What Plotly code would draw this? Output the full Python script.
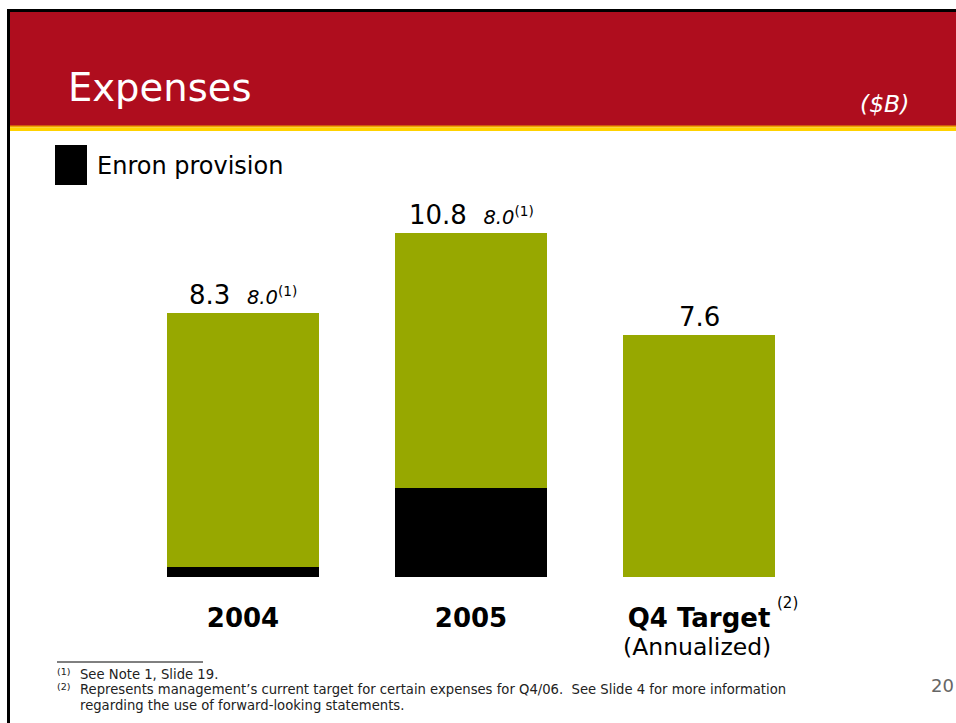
import plotly.graph_objects as go

# Expenses by period ($B)
categories = ["2004", "2005", "Q4 Target"]
enron_provision = [0.3, 2.8, 0.0]
other_expenses = [8.0, 8.0, 7.6]
tick_labels = ["<b>2004</b>", "<b>2005</b>", "<b>Q4 Target</b>"]
footnote_1 = "See Note 1, Slide 19."
footnote_2 = ["Represents management\u2019s current target for certain expenses for Q4/06.  "
              "See Slide 4 for more information",
              "regarding the use of forward-looking statements."]

W, H = 956, 723
L, R, T, B = 129, 143, 150, 146
PW, PH = W - L - R, H - T - B
Y_MAX = 13.41

GREEN = "#97A800"
RED = "#AF0D1E"
FONT = "DejaVu Sans"
NOTE_SIZE = 13.2


def px(x):
    return (x - L) / PW


def py(y):
    return (H - B - y) / PH


fig = go.Figure()
fig.add_trace(go.Bar(x=categories, y=enron_provision, marker=dict(color="black", line_width=0),
                     name="Enron provision", showlegend=False, hoverinfo="skip"))
fig.add_trace(go.Bar(x=categories, y=other_expenses, marker=dict(color=GREEN, line_width=0),
                     name="Expenses", showlegend=False, hoverinfo="skip"))

shapes = [
    # header band
    dict(type="rect", xref="paper", yref="paper", x0=px(7), x1=px(W + 2), y0=py(9), y1=py(126),
         fillcolor=RED, line_width=0, layer="below"),
    dict(type="rect", xref="paper", yref="paper", x0=px(10), x1=px(W + 2), y0=py(125.5), y1=py(127.5),
         fillcolor="#EFA000", line_width=0, layer="below"),
    dict(type="rect", xref="paper", yref="paper", x0=px(10), x1=px(W + 2), y0=py(127.5), y1=py(131),
         fillcolor="#FFD200", line_width=0, layer="below"),
    # slide frame
    dict(type="rect", xref="paper", yref="paper", x0=px(7), x1=px(W + 2), y0=py(9), y1=py(12),
         fillcolor="black", line_width=0, layer="below"),
    dict(type="rect", xref="paper", yref="paper", x0=px(7), x1=px(10), y0=py(9), y1=py(H + 2),
         fillcolor="black", line_width=0, layer="below"),
    # legend swatch
    dict(type="rect", xref="paper", yref="paper", x0=px(55), x1=px(87), y0=py(145), y1=py(185),
         fillcolor="black", line_width=0),
    # footnote rule
    dict(type="line", xref="paper", yref="paper", x0=px(57), x1=px(203), y0=py(662), y1=py(662),
         line=dict(color="black", width=1)),
]

annotations = [
    dict(text="Expenses", x=px(66), y=py(87), xanchor="left", yanchor="middle",
         font=dict(family=FONT, size=38.5, color="white")),
    dict(text="<i>($B)</i>", x=px(911), y=py(104), xanchor="right", yanchor="middle",
         font=dict(family=FONT, size=23.5, color="white")),
    dict(text="Enron provision", x=px(95), y=py(166), xanchor="left", yanchor="middle",
         font=dict(family=FONT, size=24, color="black")),
    dict(text="(2)", x=px(787), y=py(603), xanchor="center", yanchor="middle",
         font=dict(family=FONT, size=15, color="black")),
    dict(text="(Annualized)", x=2, xref="x", y=py(647), xanchor="center", yanchor="middle", xshift=-2,
         font=dict(family=FONT, size=23.5, color="black")),
    dict(text="(1)", x=px(55), y=py(671), xanchor="left", yanchor="middle",
         font=dict(family=FONT, size=9.5, color="#222")),
    dict(text=footnote_1, x=px(78), y=py(674), xanchor="left", yanchor="middle",
         font=dict(family=FONT, size=NOTE_SIZE, color="#222")),
    dict(text="(2)", x=px(55), y=py(686), xanchor="left", yanchor="middle",
         font=dict(family=FONT, size=9.5, color="#222")),
    dict(text=footnote_2[0], x=px(78), y=py(689.5), xanchor="left", yanchor="middle",
         font=dict(family=FONT, size=NOTE_SIZE, color="#222")),
    dict(text=footnote_2[1], x=px(78), y=py(705), xanchor="left", yanchor="middle",
         font=dict(family=FONT, size=NOTE_SIZE, color="#222")),
    dict(text="20", x=px(956), y=py(685), xanchor="right", yanchor="middle",
         font=dict(family=FONT, size=18, color="#666")),
]

# value labels above each stacked bar
for i, (e, o) in enumerate(zip(enron_provision, other_expenses)):
    total = e + o
    if e > 0:
        label = (f"{total:.1f}\u00a0 <span style='font-size:19.5px'><i>{o:.1f}</i>"
                 f"<sup>(1)</sup></span>")
    else:
        label = f"{total:.1f}"
    annotations.append(dict(text=label, x=i, y=total, xref="x", yref="y",
                            xanchor="center", yanchor="bottom", yshift=1, showarrow=False,
                            font=dict(family=FONT, size=26, color="black")))

for a in annotations:
    a.setdefault("xref", "paper")
    a.setdefault("yref", "paper")
    a.setdefault("showarrow", False)

fig.update_layout(
    width=W, height=H,
    margin=dict(l=L, r=R, t=T, b=B, pad=0, autoexpand=False),
    paper_bgcolor="white", plot_bgcolor="white",
    barmode="stack", bargap=1 / 3,
    shapes=shapes, annotations=annotations,
    xaxis=dict(type="category", tickvals=categories, ticktext=tick_labels, showgrid=False,
               zeroline=False, showline=False, ticks="", ticklabelstandoff=23, tickangle=0,
               automargin=False, range=[-0.5, 2.5],
               tickfont=dict(family=FONT, size=26, color="black"), fixedrange=True),
    yaxis=dict(range=[0, Y_MAX], visible=False, fixedrange=True, automargin=False),
)

fig.write_html("out.html", config={"displayModeBar": False})
